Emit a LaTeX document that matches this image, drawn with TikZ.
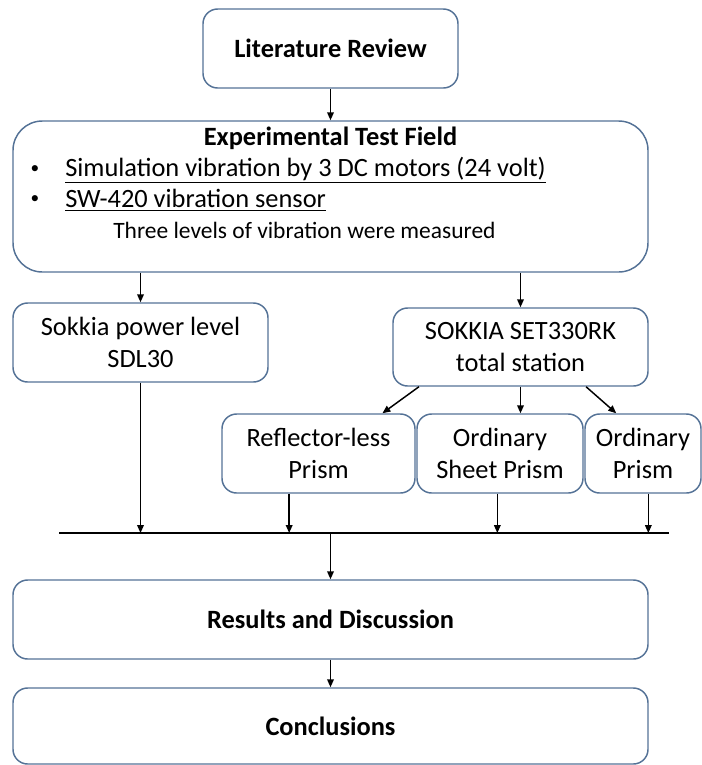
\documentclass[tikz,border=0pt]{standalone}
\usepackage{fontspec}
\setmainfont{Carlito}
\usetikzlibrary{arrows.meta}
\definecolor{boxline}{RGB}{84,114,150}

\begin{document}
\begin{tikzpicture}[x=0.75pt,y=-0.75pt,
  blk/.style={shape=rectangle,draw=boxline,line width=1.1pt,rounded corners=11pt,align=center,inner sep=0pt,font=\fontsize{19.8}{24}\selectfont},
  arr/.style={-{Triangle[length=6pt,width=5pt]},line width=1.1pt}]
\useasboundingbox (0,0) rectangle (702,765);

\node[blk,minimum width=191.25pt,minimum height=59.25pt,font=\fontsize{19.8}{24}\selectfont\bfseries] (lit) at (330.5,48.5) {Literature Review};
\node[blk,minimum width=476.25pt,minimum height=113.25pt,rounded corners=22pt] (exp) at (330.5,196.5) {};
\node[font=\fontsize{19.8}{24}\selectfont\bfseries] (expt) at (330.5,138) {Experimental Test Field};
\node[font=\fontsize{13}{16}\selectfont] (dot1) at (35,170) {\textbullet};
\node[font=\fontsize{19.8}{24}\selectfont,anchor=west,inner sep=0pt] (b1) at (65,170) {\underline{Simulation vibration by 3 DC motors (24 volt)}};
\node[font=\fontsize{13}{16}\selectfont] (dot2) at (35,200) {\textbullet};
\node[font=\fontsize{19.8}{24}\selectfont,anchor=west,inner sep=0pt] (b2) at (65,200) {\underline{SW-420 vibration sensor}};
\node[font=\fontsize{17.6}{21}\selectfont,anchor=west,inner sep=0pt] (sub) at (113,230) {Three levels of vibration were measured};

\node[blk,minimum width=191.25pt,minimum height=59.25pt] (level) at (140.5,342.5) {Sokkia power level\\SDL30};
\node[blk,minimum width=191.25pt,minimum height=58.5pt] (ts) at (520.5,347) {SOKKIA SET330RK\\total station};

\node[blk,minimum width=144.75pt,minimum height=59.25pt] (rl) at (318.5,453.5) {Reflector-less\\Prism};
\node[blk,minimum width=124.5pt,minimum height=59.25pt] (osp) at (500,453.5) {Ordinary\\Sheet Prism};
\node[blk,minimum width=87pt,minimum height=59.25pt] (op) at (643,453.5) {Ordinary\\Prism};

\coordinate (busL) at (59,533);
\coordinate (busR) at (669,533);

\node[blk,minimum width=476.25pt,minimum height=59.25pt,font=\fontsize{19.8}{24}\selectfont\bfseries] (res) at (330.5,619.5) {Results and Discussion};
\node[blk,minimum width=476.25pt,minimum height=57pt,font=\fontsize{19.8}{24}\selectfont\bfseries] (con) at (330.5,726) {Conclusions};

\draw[arr] (lit) -- (exp);
\draw[arr] (exp.south -| level.north) -- (level.north);
\draw[arr] (exp.south -| ts.north) -- (ts.north);
%%%%%%%%
\draw[arr] ([xshift=20pt]ts.south west) -- ([xshift=-25pt]rl.north east);
\draw[arr] (ts.south) -- (ts.south |- osp.north);
\draw[arr] ([xshift=-47pt]ts.south east) -- ([xshift=24pt]op.north west);
%%%%%%%%%%%%
\draw[line width=1.1pt] (busL) -- (busR);
\draw[arr] (level.south) -- (level.south |- busL);
\draw[arr] ([xshift=-22pt]rl.south) -- ([xshift=-22pt]rl.south |- busL);
\draw[arr] ([xshift=-2pt]osp.south) -- ([xshift=-2pt]osp.south |- busL);
\draw[arr] ([xshift=4pt]op.south) -- ([xshift=4pt]op.south |- busL);
\draw[arr] (res.north |- busL) -- (res.north);
\draw[arr] (res) -- (con);

%%%%%%%%%%%%%%%%%%%%%%%%%%%%%%%%%%%
\end{tikzpicture}
\end{document}
